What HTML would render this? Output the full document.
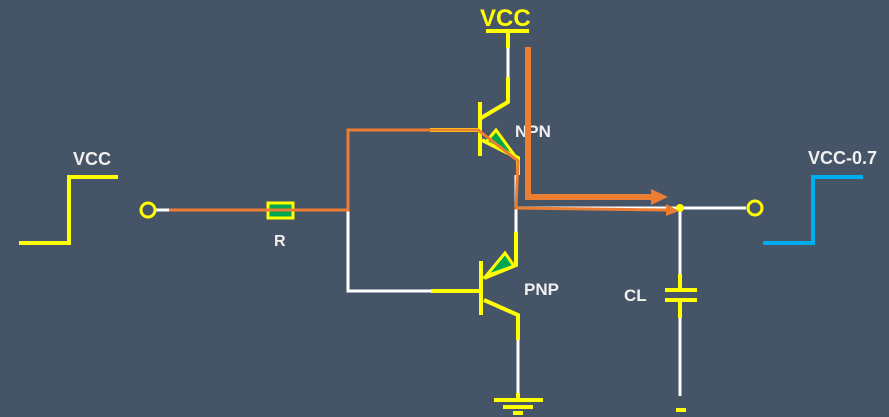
<!DOCTYPE html>
<html><head><meta charset="utf-8"><style>
html,body{margin:0;padding:0;background:#465468;}
svg{display:block;}
text{font-family:"Liberation Sans",sans-serif;font-weight:bold;}
</style></head><body>
<svg width="889" height="417" viewBox="0 0 889 417">
<rect width="889" height="417" fill="#465468"/>
<!-- input waveform -->
<polyline points="19,243 69,243 69,177 118,177" fill="none" stroke="#ffff00" stroke-width="4"/>
<text x="73" y="165" fill="#f0f0f0" font-size="18">VCC</text>
<!-- output waveform -->
<polyline points="763,243 813,243 813,177 863,177" fill="none" stroke="#00aeef" stroke-width="4"/>
<text x="808" y="164" fill="#f0f0f0" font-size="18">VCC-0.7</text>
<!-- white wires -->
<g stroke="#ffffff" stroke-width="3" fill="none">
<line x1="155" y1="210" x2="170" y2="210"/>
<polyline points="348,210 348,291 431,291"/>
<line x1="508" y1="48" x2="508" y2="78"/>
<line x1="516" y1="175" x2="516" y2="232"/>
<line x1="516" y1="208" x2="746" y2="208"/>
<line x1="680" y1="208" x2="680" y2="274"/>
<line x1="680" y1="318" x2="680" y2="396"/>
<line x1="518" y1="340" x2="518" y2="398"/>
</g>
<!-- circles -->
<circle cx="148" cy="210" r="7" fill="none" stroke="#ffff00" stroke-width="3"/>
<circle cx="755" cy="208" r="7" fill="none" stroke="#ffff00" stroke-width="3"/>
<circle cx="680" cy="208" r="4" fill="#ffff00"/>
<!-- resistor -->
<rect x="268" y="203" width="25" height="15" fill="#00a651" stroke="#ffff00" stroke-width="3"/>
<text x="274" y="246" fill="#f0f0f0" font-size="16">R</text>
<!-- VCC top -->
<text x="480" y="26" fill="#ffff00" font-size="24">VCC</text>
<g stroke="#ffff00" stroke-width="4" fill="none">
<line x1="486" y1="31" x2="529" y2="31"/>
<line x1="508" y1="31" x2="508" y2="48"/>
<polyline points="508,77 508,102 481,118"/>
<line x1="480" y1="102" x2="480" y2="156"/>
<line x1="430" y1="130" x2="480" y2="130"/>
<polyline points="482,140 518,158 518,175"/>
<!-- PNP -->
<line x1="481" y1="261" x2="481" y2="315"/>
<line x1="431" y1="291" x2="481" y2="291"/>
<polyline points="484,278 516,265 516,232"/>
<polyline points="484,300 518,315 518,340"/>
<!-- ground -->
<line x1="518" y1="393" x2="518" y2="400"/>
<line x1="494" y1="400" x2="543" y2="400"/>
<line x1="503" y1="407" x2="533" y2="407"/>
<line x1="513" y1="413" x2="523" y2="413"/>
<!-- capacitor -->
<line x1="680" y1="274" x2="680" y2="290"/>
<line x1="665" y1="290" x2="697" y2="290"/>
<line x1="665" y1="300" x2="697" y2="300"/>
<line x1="680" y1="300" x2="680" y2="318"/>
<line x1="676" y1="410" x2="686" y2="410"/>
</g>
<polygon points="486,142 496,130 515,156" fill="#00a651" stroke="#ffff00" stroke-width="3"/>
<polygon points="486,276 505,253 514,266" fill="#00a651" stroke="#ffff00" stroke-width="3"/>
<text x="515" y="137" fill="#f0f0f0" font-size="17">NPN</text>
<text x="524" y="295" fill="#f0f0f0" font-size="17">PNP</text>
<text x="624" y="301" fill="#f0f0f0" font-size="17">CL</text>
<!-- orange paths -->
<polyline points="169,210 348,210 348,130 478,130 518,161 516,208 668,210" fill="none" stroke="#ed7d31" stroke-width="3"/>
<polygon points="666,204 679,211 666,216" fill="#ed7d31"/>
<polyline points="528,47 528,197 655,197" fill="none" stroke="#ed7d31" stroke-width="6"/>
<polygon points="651,189 668,197 651,205" fill="#ed7d31"/>
</svg>
</body></html>
